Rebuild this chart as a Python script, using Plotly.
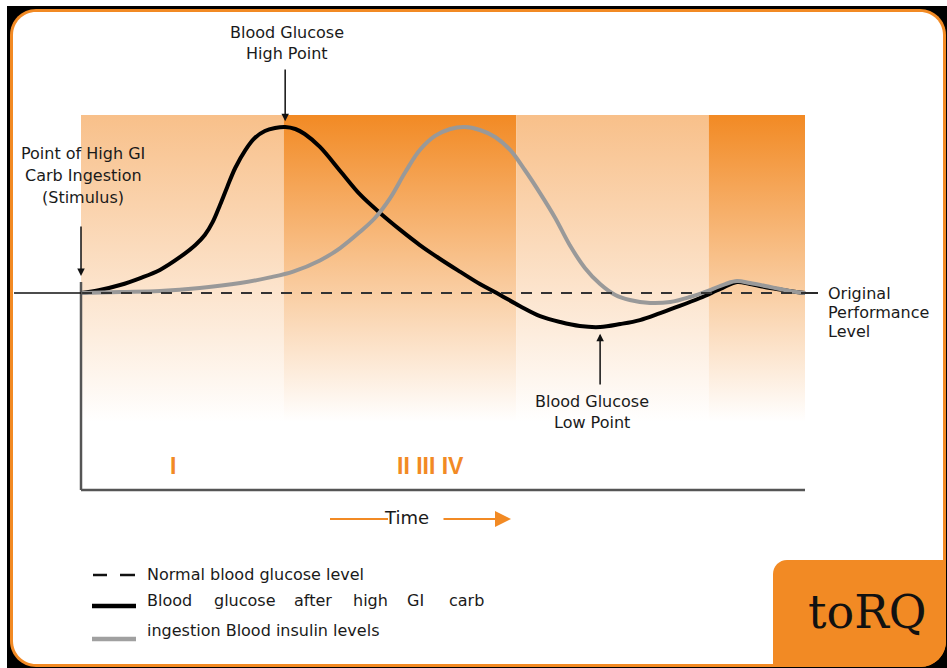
import plotly.graph_objects as go

# ---------------- data ----------------
time_glucose = [0, 2.6, 5.4, 8.2, 10.9, 13.7, 15.8, 17.1, 18.2, 19.2, 20.2, 21.3, 22.7, 24.0,
                25.4, 26.8, 28.2, 29.6, 30.9, 33.0, 35.8, 38.5, 41.3, 44.1, 46.8, 49.6, 52.4,
                55.1, 57.9, 60.6, 63.4, 66.2, 68.9, 71.7, 74.5, 77.2, 80.0, 82.7, 85.5, 88.3,
                90.6, 92.4, 95.2, 97.9, 100]
glucose = [0, 1.8, 4.8, 9.0, 13.9, 21.7, 28.9, 34.9, 42.8, 53.0, 63.9, 75.3, 86.1, 93.4,
           97.6, 99.4, 100, 98.8, 95.8, 88.0, 73.5, 59.5, 48.2, 38.0, 28.9, 20.5, 12.7,
           5.4, -1.2, -7.8, -13.9, -17.5, -19.9, -20.5, -18.7, -16.3, -12.1, -7.8, -3.0, 2.4,
           6.6, 5.4, 3.0, 1.2, 0]

time_insulin = [0, 5.4, 10.9, 16.4, 22.0, 26.1, 29.3, 33.0, 35.8, 38.5, 40.6, 42.7, 44.8,
                46.8, 48.9, 51.0, 53.0, 55.1, 57.2, 59.3, 61.3, 63.4, 65.5, 67.5, 69.6, 71.7,
                73.8, 75.8, 78.6, 81.4, 84.1, 86.9, 89.0, 90.6, 92.4, 95.2, 97.9, 100]
insulin = [0, 0.6, 1.2, 3.0, 6.0, 9.4, 12.9, 19.6, 27.1, 36.7, 45.2, 57.2, 72.9,
           86.1, 94.6, 98.8, 100, 98.2, 94.0, 86.1, 74.1, 60.2, 45.2, 28.9, 15.1, 5.4,
           -1.2, -4.2, -6.0, -5.4, -2.4, 1.8, 5.4, 7.2, 6.0, 3.6, 1.2, 0]

normal_time = [0, 100]
normal_level = [0, 0]

phase_edges = [0, 28.0, 60.1, 86.7, 100]
phase_shades = ["light", "dark", "light", "dark"]
phase_labels = ["I", "II III IV"]

legend_labels = ["Normal blood glucose level",
                 "Blood glucose after high GI carb",
                 "ingestion Blood insulin levels"]

# ---------------- geometry helpers (pixel -> axis units / paper) ----------------
W, H = 947, 668
X0PX, XSCALE = 81, 7.24     # t=0 at 81px, 7.24 px per time unit
Y0PX, YSCALE = 293, 1.66    # level 0 at 293px, 1.66 px per level unit


def tx(px):
    return (px - X0PX) / XSCALE


def vy(py):
    return (Y0PX - py) / YSCALE


def PX(x):
    return x / W


def PY(y):
    return 1 - y / H


def rrect(x0, y0, x1, y1, r_tl=0, r_tr=0, r_br=0, r_bl=0):
    k = 0.4477  # 1 - 0.5523
    p = [f"M {PX(x0 + r_tl)},{PY(y0)}", f"L {PX(x1 - r_tr)},{PY(y0)}"]
    if r_tr:
        p.append(f"C {PX(x1 - r_tr * k)},{PY(y0)} {PX(x1)},{PY(y0 + r_tr * k)} {PX(x1)},{PY(y0 + r_tr)}")
    p.append(f"L {PX(x1)},{PY(y1 - r_br)}")
    if r_br:
        p.append(f"C {PX(x1)},{PY(y1 - r_br * k)} {PX(x1 - r_br * k)},{PY(y1)} {PX(x1 - r_br)},{PY(y1)}")
    p.append(f"L {PX(x0 + r_bl)},{PY(y1)}")
    if r_bl:
        p.append(f"C {PX(x0 + r_bl * k)},{PY(y1)} {PX(x0)},{PY(y1 - r_bl * k)} {PX(x0)},{PY(y1 - r_bl)}")
    p.append(f"L {PX(x0)},{PY(y0 + r_tl)}")
    if r_tl:
        p.append(f"C {PX(x0)},{PY(y0 + r_tl * k)} {PX(x0 + r_tl * k)},{PY(y0)} {PX(x0 + r_tl)},{PY(y0)}")
    p.append("Z")
    return " ".join(p)


ORANGE = "#F28A24"
LIGHT = "#F8C08A"
TXT = "#1a1a1a"
FONT = "DejaVu Sans"

fig = go.Figure()

# ---------------- phase bands (vertical gradient) ----------------
band_top = vy(115)
band_bot = vy(422)
for i, shade in enumerate(phase_shades):
    x0, x1 = phase_edges[i], phase_edges[i + 1]
    col = ORANGE if shade == "dark" else LIGHT
    fig.add_trace(go.Scatter(
        x=[x0, x1, x1, x0, x0], y=[band_top, band_top, band_bot, band_bot, band_top],
        mode="lines", line=dict(width=0), fill="toself",
        fillgradient=dict(type="vertical", colorscale=[[0, "rgb(255,255,255)"], [1, col]],
                          start=band_bot, stop=band_top),
        hoverinfo="skip", showlegend=False))

# ---------------- curves ----------------
fig.add_trace(go.Scatter(x=time_glucose, y=glucose, mode="lines",
                         line=dict(color="#000000", width=4, shape="spline", smoothing=1.0),
                         hoverinfo="skip", showlegend=False))
fig.add_trace(go.Scatter(x=time_insulin, y=insulin, mode="lines",
                         line=dict(color="#999999", width=4, shape="spline", smoothing=1.0),
                         hoverinfo="skip", showlegend=False))
fig.add_trace(go.Scatter(x=normal_time, y=normal_level, mode="lines",
                         line=dict(color="#333333", width=2, dash="11px,9px"),
                         hoverinfo="skip", showlegend=False))

shapes = []
# card frame
shapes.append(dict(type="rect", xref="paper", yref="paper", x0=PX(7), x1=PX(W + 2), y0=PY(6), y1=PY(H + 2),
                   fillcolor="#000000", line=dict(width=0), layer="below"))
shapes.append(dict(type="path", xref="paper", yref="paper", path=rrect(10, 9, 946, 667, 26, 26, 26, 26),
                   fillcolor=ORANGE, line=dict(width=0), layer="below"))
shapes.append(dict(type="path", xref="paper", yref="paper", path=rrect(13, 12, 943, 664, 23, 23, 23, 23),
                   fillcolor="#ffffff", line=dict(width=0), layer="below"))
# logo box
shapes.append(dict(type="path", xref="paper", yref="paper", path=rrect(773, 560, 946, 667, 14, 0, 26, 0),
                   fillcolor=ORANGE, line=dict(width=0), layer="below"))

# axes
AX = "#555555"
shapes.append(dict(type="line", xref="x", yref="y", x0=0, x1=0, y0=vy(282), y1=vy(490),
                   line=dict(color=AX, width=2.5)))
shapes.append(dict(type="line", xref="x", yref="y", x0=0, x1=phase_edges[-1], y0=vy(490), y1=vy(490),
                   line=dict(color=AX, width=2.5)))
# baseline extensions of the original performance level
shapes.append(dict(type="line", xref="x", yref="y", x0=tx(14), x1=0, y0=0, y1=0,
                   line=dict(color="#111111", width=1.6)))
shapes.append(dict(type="line", xref="x", yref="y", x0=100, x1=tx(818), y0=0, y1=0,
                   line=dict(color="#111111", width=1.8)))

# time arrow left segment
shapes.append(dict(type="line", xref="x", yref="y", x0=tx(330), x1=tx(388), y0=vy(519), y1=vy(519),
                   line=dict(color=ORANGE, width=2)))

# legend swatches
shapes.append(dict(type="line", xref="paper", yref="paper", x0=PX(93), x1=PX(107), y0=PY(575), y1=PY(575),
                   line=dict(color="#111111", width=2.5)))
shapes.append(dict(type="line", xref="paper", yref="paper", x0=PX(120), x1=PX(135), y0=PY(575), y1=PY(575),
                   line=dict(color="#111111", width=2.5)))
shapes.append(dict(type="line", xref="paper", yref="paper", x0=PX(92), x1=PX(136), y0=PY(606), y1=PY(606),
                   line=dict(color="#000000", width=4.5)))
shapes.append(dict(type="line", xref="paper", yref="paper", x0=PX(92), x1=PX(136), y0=PY(639), y1=PY(639),
                   line=dict(color="#A0A0A0", width=4.5)))

ann = []


def label(text, px, py, size=16, color=TXT, xanchor="center", bold=False, family=FONT):
    ann.append(dict(text=f"<b>{text}</b>" if bold else text, x=tx(px), y=vy(py), xref="x", yref="y",
                    showarrow=False, xanchor=xanchor, yanchor="middle",
                    font=dict(family=family, size=size, color=color)))


# peak / trough positions from data
i_max = max(range(len(glucose)), key=lambda i: glucose[i])
i_min = min(range(len(glucose)), key=lambda i: glucose[i])
t_peak, v_peak = time_glucose[i_max], glucose[i_max]
t_low, v_low = time_glucose[i_min], glucose[i_min]

# Blood glucose high point
label("Blood Glucose", 287, 32)
label("High Point", 287, 53)
ann.append(dict(x=t_peak, y=v_peak + 3.5, ax=t_peak, ay=vy(68), xref="x", yref="y", axref="x", ayref="y",
                showarrow=True, arrowhead=2, arrowsize=1, arrowwidth=1.5, arrowcolor="#111111",
                standoff=0, text=""))
# stimulus
label("Point of High GI", 83, 153)
label("Carb Ingestion", 83, 175)
label("(Stimulus)", 83, 197)
ann.append(dict(x=0, y=vy(276), ax=0, ay=vy(225), xref="x", yref="y", axref="x", ayref="y",
                showarrow=True, arrowhead=2, arrowsize=1, arrowwidth=1.5, arrowcolor="#111111",
                standoff=0, text=""))
# low point
label("Blood Glucose", 592, 401)
label("Low Point", 592, 422)
ann.append(dict(x=t_low, y=v_low - 4, ax=t_low, ay=vy(386), xref="x", yref="y", axref="x", ayref="y",
                showarrow=True, arrowhead=2, arrowsize=1, arrowwidth=1.5, arrowcolor="#111111",
                standoff=0, text=""))
# original performance level
label("Original", 826, 293, xanchor="left")
label("Performance", 826, 312, xanchor="left")
label("Level", 826, 331, xanchor="left")

# phase labels
label(phase_labels[0], 173, 466, size=23, color=ORANGE, bold=True, family="Liberation Sans")
label(phase_labels[1], 430, 466, size=23, color=ORANGE, bold=True, family="Liberation Sans")

# time axis label and arrow
label("Time", 406, 517, size=18)
ann.append(dict(x=tx(511), y=vy(519), ax=tx(442), ay=vy(519), xref="x", yref="y", axref="x", ayref="y",
                showarrow=True, arrowhead=2, arrowsize=1.6, arrowwidth=2, arrowcolor=ORANGE,
                standoff=0, text=""))

# legend texts
label(legend_labels[0], 145, 574, xanchor="left")
words = legend_labels[1].split(" ")
word_px = [145, 212, 292, 351, 405, 447]
for w, p in zip(words, word_px):
    label(w, p, 600, xanchor="left")
label(legend_labels[2], 145, 630, xanchor="left")

# logo
ann.append(dict(text="toRQ", x=PX(867), y=PY(612), xref="paper", yref="paper", showarrow=False,
                xanchor="center", yanchor="middle",
                font=dict(family="DejaVu Serif", size=46, color="#111111")))

fig.update_layout(
    width=W, height=H, margin=dict(l=0, r=0, t=0, b=0),
    paper_bgcolor="#ffffff", plot_bgcolor="rgba(0,0,0,0)", showlegend=False,
    xaxis=dict(range=[tx(0), tx(W)], visible=False, fixedrange=True),
    yaxis=dict(range=[vy(H), vy(0)], visible=False, fixedrange=True),
    shapes=shapes, annotations=ann,
)

fig.write_html("out.html", config={"displayModeBar": False},
               post_script="document.body.style.margin='0';document.body.style.overflow='hidden';")
